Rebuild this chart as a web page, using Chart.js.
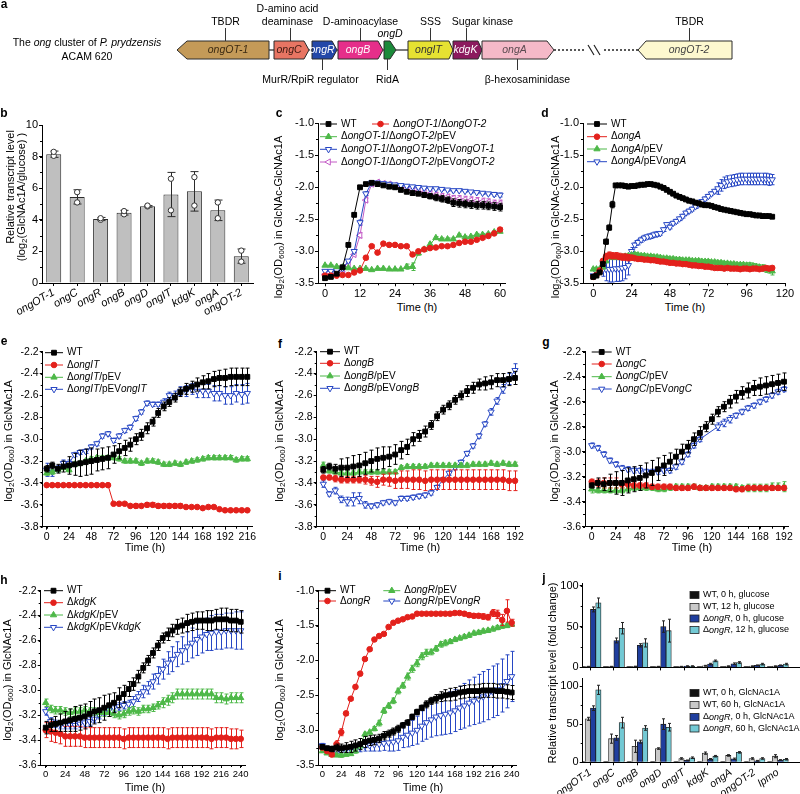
<!DOCTYPE html>
<html>
<head>
<meta charset="utf-8">
<script src="https://cdn.jsdelivr.net/npm/chart.js@4.4.1/dist/chart.umd.min.js"></script>
<style>
html, body { margin: 0; padding: 0; background: #fff; overflow: hidden; }
body { width: 800px; height: 794px; position: relative; font-family: "Liberation Sans", Arial, sans-serif; color: #000; }
canvas { position: absolute; }
.t { position: absolute; font-size: 11px; white-space: nowrap; transform: translate(-50%, -50%); line-height: 1; }
.v { transform: translate(-50%, -50%) rotate(-90deg); }
.p { font-weight: bold; font-size: 12px; }
sub { font-size: 0.72em; vertical-align: -0.3em; line-height: 0; }
</style>
</head>
<body>
<canvas id="cA"></canvas>
<canvas id="cB"></canvas>
<canvas id="cC"></canvas>
<canvas id="cD"></canvas>
<canvas id="cE"></canvas>
<canvas id="cF"></canvas>
<canvas id="cG"></canvas>
<canvas id="cH"></canvas>
<canvas id="cI"></canvas>
<canvas id="cJ1"></canvas>
<canvas id="cJ2"></canvas>

<div class="t p" style="left:4px;top:4px">a</div>
<div class="t p" style="left:4px;top:113px">b</div>
<div class="t p" style="left:279px;top:113px">c</div>
<div class="t p" style="left:545px;top:113px">d</div>
<div class="t p" style="left:4px;top:341px">e</div>
<div class="t p" style="left:280px;top:344px">f</div>
<div class="t p" style="left:546px;top:342px">g</div>
<div class="t p" style="left:4px;top:580px">h</div>
<div class="t p" style="left:280px;top:576px">i</div>
<div class="t p" style="left:544px;top:578px">j</div>

<div class="t v" style="left:10px;top:187px">Relative transcript level</div>
<div class="t v" style="left:21px;top:197px">(log<sub>2</sub>(GlcNAc1A/glucose) )</div>
<div class="t v" style="left:278px;top:217px">log<sub>2</sub>(OD<sub>600</sub>) in GlcNAc-GlcNAc1A</div>
<div class="t v" style="left:555px;top:217px">log<sub>2</sub>(OD<sub>600</sub>) in GlcNAc-GlcNAc1A</div>
<div class="t v" style="left:8px;top:441px">log<sub>2</sub>(OD<sub>600</sub>) in GlcNAc1A</div>
<div class="t v" style="left:279px;top:441px">log<sub>2</sub>(OD<sub>600</sub>) in GlcNAc1A</div>
<div class="t v" style="left:554px;top:441px">log<sub>2</sub>(OD<sub>600</sub>) in GlcNAc1A</div>
<div class="t v" style="left:7px;top:680px">log<sub>2</sub>(OD<sub>600</sub>) in GlcNAc1A</div>
<div class="t v" style="left:279px;top:680px">log<sub>2</sub>(OD<sub>600</sub>) in GlcNAc1A</div>
<div class="t v" style="left:552px;top:673px">Relative transcript level (fold change)</div>

<div class="t" style="left:417px;top:307px">Time (h)</div>
<div class="t" style="left:685px;top:307px">Time (h)</div>
<div class="t" style="left:145px;top:547px">Time (h)</div>
<div class="t" style="left:420px;top:547px">Time (h)</div>
<div class="t" style="left:692px;top:547px">Time (h)</div>
<div class="t" style="left:145px;top:787px">Time (h)</div>
<div class="t" style="left:423px;top:787px">Time (h)</div>

<script>
// ---------- data ----------
// a: gene map (map units)
const geneNames = ['ongOT-1', 'ongC', 'ongR', 'ongB', 'ongD', 'ongIT', 'kdgK', 'ongA', 'ongOT-2'];
const geneFrom = [177, 274, 312, 338, 384, 408, 453, 482, 638];
const geneTo = [269, 309, 337, 383, 396, 453, 482, 554, 732];
const geneStrand = [-1, 1, 1, 1, 1, 1, 1, 1, -1];
const annText = ['TBDR', 'D-amino acid|deaminase', 'D-aminoacylase', 'SSS', 'Sugar kinase', 'TBDR', 'MurR/RpiR regulator', 'RidA', 'β-hexosaminidase'];
const annAt = [225, 290, 360, 430, 466, 689, 322, 387, 517];

// b
const bGenes = ['ongOT-1', 'ongC', 'ongR', 'ongB', 'ongD', 'ongIT', 'kdgK', 'ongA', 'ongOT-2'];
const bMean = [8.15, 5.45, 4.05, 4.45, 4.85, 5.6, 5.8, 4.6, 1.7];
const bErr = [0.2, 0.45, 0.1, 0.15, 0.05, 1.4, 1.25, 0.65, 0.45];
const bRep1 = [8.3, 5.75, 4.1, 4.55, 4.9, 6.6, 6.7, 5.1, 2.05];
const bRep2 = [8.05, 5.1, 4.0, 4.35, 4.85, 4.6, 4.9, 4.1, 1.35];

// c
const tC = [0,2,4,6,8,10,12,14,16,18,20,22,24,26,28,30,32,34,36,38,40,42,44,46,48,50,52,54,56,58,60];
const cWT = [-3.42,-3.40,-3.35,-3.25,-2.90,-2.43,-2.00,-1.95,-1.93,-1.95,-1.97,-1.99,-2.00,-2.04,-2.07,-2.09,-2.10,-2.12,-2.14,-2.16,-2.18,-2.20,-2.24,-2.25,-2.26,-2.27,-2.28,-2.28,-2.29,-2.30,-2.31];
const cWTe = [0.02,0.02,0.02,0.02,0.03,0.03,0.02,0.02,0.02,0.02,0.02,0.02,0.03,0.03,0.03,0.03,0.03,0.04,0.04,0.05,0.05,0.05,0.06,0.06,0.06,0.06,0.06,0.06,0.06,0.06,0.06];
const cR = [-3.38,-3.38,-3.38,-3.37,-3.37,-3.33,-3.30,-3.10,-2.92,-3.02,-2.88,-2.90,-2.90,-2.92,-2.92,-3.05,-3.00,-2.97,-2.95,-2.94,-2.92,-2.92,-2.90,-2.87,-2.85,-2.85,-2.82,-2.79,-2.76,-2.72,-2.66];
const cRe = [0.01,0.01,0.01,0.01,0.01,0.02,0.02,0.03,0.02,0.02,0.02,0.02,0.02,0.02,0.02,0.02,0.02,0.02,0.02,0.02,0.02,0.02,0.02,0.02,0.02,0.02,0.02,0.02,0.02,0.02,0.03];
const cG = [-3.22,-3.22,-3.24,-3.25,-3.26,-3.27,-3.27,-3.27,-3.29,-3.27,-3.27,-3.28,-3.28,-3.28,-3.24,-3.24,-3.03,-2.97,-2.89,-2.79,-2.81,-2.81,-2.81,-2.75,-2.78,-2.77,-2.74,-2.74,-2.73,-2.70,-2.69];
const cGe = [0.01,0.01,0.01,0.01,0.01,0.01,0.01,0.01,0.01,0.01,0.01,0.01,0.01,0.01,0.04,0.06,0.03,0.02,0.03,0.02,0.02,0.02,0.02,0.02,0.02,0.02,0.02,0.02,0.02,0.02,0.02];
const cB = [-3.31,-3.31,-3.30,-3.27,-3.15,-3.00,-2.55,-2.10,-1.93,-1.93,-1.94,-1.95,-1.96,-1.97,-1.98,-1.99,-2.00,-2.01,-2.02,-2.02,-2.03,-2.04,-2.05,-2.05,-2.06,-2.07,-2.08,-2.09,-2.10,-2.11,-2.12];
const cBe = [0.01,0.01,0.01,0.01,0.02,0.02,0.04,0.03,0.02,0.02,0.02,0.02,0.02,0.02,0.02,0.02,0.02,0.02,0.02,0.02,0.02,0.02,0.02,0.02,0.02,0.02,0.02,0.02,0.02,0.03,0.03];
const cP = [-3.36,-3.36,-3.35,-3.33,-3.22,-3.05,-2.75,-2.20,-1.95,-1.92,-1.94,-1.95,-1.97,-1.99,-2.02,-2.04,-2.06,-2.08,-2.10,-2.12,-2.14,-2.15,-2.17,-2.18,-2.19,-2.20,-2.21,-2.22,-2.23,-2.25,-2.25];
const cPe = [0.01,0.01,0.01,0.01,0.02,0.02,0.04,0.03,0.02,0.02,0.02,0.02,0.03,0.03,0.03,0.03,0.03,0.03,0.04,0.04,0.04,0.04,0.04,0.05,0.05,0.05,0.05,0.05,0.05,0.05,0.05];

// d
const tD = [0,2,4,6,8,10,12,14,16,18,20,22,24,26,28,30,32,34,36,38,40,42,44,46,48,50,52,54,56,58,60,62,64,66,68,70,72,74,76,78,80,82,84,86,88,90,92,94,96,98,100,102,104,106,108,110,112];
const dWT = [-3.40,-3.38,-3.33,-3.20,-2.85,-2.63,-2.27,-1.97,-1.97,-1.97,
  -1.98,-1.99,-1.98,-1.98,-1.97,-1.96,-1.96,-1.95,-1.95,-1.96,
  -1.97,-1.99,-2.01,-2.04,-2.07,-2.10,-2.13,-2.15,-2.17,-2.19,
  -2.21,-2.22,-2.24,-2.25,-2.27,-2.28,-2.28,-2.29,-2.31,-2.32,
  -2.34,-2.35,-2.36,-2.37,-2.38,-2.39,-2.40,-2.41,-2.42,-2.42,
  -2.43,-2.44,-2.44,-2.45,-2.45,-2.45,-2.46];
const dWTe = [0.02,0.02,0.02,0.03,0.04,0.04,0.05,0.02,0.02,0.02,
  0.02,0.02,0.02,0.02,0.02,0.02,0.02,0.02,0.02,0.02,
  0.02,0.02,0.02,0.02,0.02,0.02,0.02,0.02,0.02,0.02,
  0.02,0.02,0.02,0.02,0.02,0.02,0.02,0.02,0.02,0.02,
  0.02,0.02,0.02,0.02,0.02,0.02,0.02,0.02,0.02,0.02,
  0.02,0.02,0.02,0.02,0.02,0.02,0.02];
const dR = [-3.40,-3.37,-3.30,-3.15,-3.08,-3.06,-3.07,-3.07,-3.08,-3.09,
  -3.09,-3.10,-3.10,-3.11,-3.12,-3.12,-3.13,-3.13,-3.14,-3.14,
  -3.15,-3.16,-3.16,-3.17,-3.18,-3.18,-3.19,-3.19,-3.20,-3.20,
  -3.21,-3.22,-3.22,-3.23,-3.23,-3.24,-3.24,-3.25,-3.26,-3.26,
  -3.26,-3.27,-3.26,-3.27,-3.27,-3.27,-3.28,-3.27,-3.27,-3.28,
  -3.27,-3.27,-3.28,-3.27,-3.26,-3.27,-3.26];
const dRe = [0.02,0.02,0.03,0.04,0.05,0.05,0.05,0.05,0.05,0.05,
  0.05,0.05,0.04,0.03,0.03,0.03,0.03,0.03,0.03,0.03,
  0.02,0.02,0.02,0.02,0.02,0.02,0.02,0.02,0.02,0.02,
  0.02,0.02,0.02,0.02,0.02,0.02,0.02,0.02,0.02,0.02,
  0.02,0.02,0.02,0.02,0.02,0.02,0.02,0.02,0.02,0.02,
  0.02,0.02,0.02,0.02,0.03,0.03,0.03];
const dG = [-3.28,-3.28,-3.28,-3.25,-3.15,-3.08,-3.10,-3.10,-3.10,-3.09,
  -3.08,-3.07,-3.06,-3.05,-3.06,-3.07,-3.07,-3.08,-3.08,-3.09,
  -3.09,-3.10,-3.11,-3.11,-3.12,-3.12,-3.13,-3.13,-3.14,-3.14,
  -3.14,-3.15,-3.15,-3.15,-3.16,-3.16,-3.16,-3.17,-3.17,-3.18,
  -3.18,-3.19,-3.19,-3.20,-3.20,-3.21,-3.21,-3.21,-3.22,-3.22,
  -3.23,-3.24,-3.25,-3.26,-3.28,-3.29,-3.31];
const dGe = [0.02,0.02,0.02,0.02,0.03,0.03,0.03,0.03,0.03,0.03,
  0.03,0.03,0.03,0.03,0.03,0.03,0.03,0.03,0.03,0.03,
  0.03,0.03,0.03,0.03,0.03,0.03,0.03,0.03,0.03,0.03,
  0.03,0.03,0.03,0.03,0.03,0.03,0.03,0.03,0.03,0.03,
  0.03,0.03,0.03,0.03,0.03,0.03,0.03,0.03,0.04,0.04,
  0.04,0.04,0.04,0.05,0.05,0.05,0.06];
const dB = [-3.38,-3.33,-3.30,-3.29,-3.28,-3.28,-3.28,-3.27,-3.27,-3.26,
  -3.25,-3.22,-3.00,-2.90,-2.86,-2.82,-2.79,-2.77,-2.76,-2.74,
  -2.73,-2.72,-2.66,-2.58,-2.62,-2.56,-2.53,-2.49,-2.45,-2.40,
  -2.37,-2.34,-2.30,-2.26,-2.22,-2.18,-2.14,-2.10,-2.06,-2.02,
  -1.97,-1.93,-1.91,-1.90,-1.89,-1.88,-1.87,-1.87,-1.87,-1.87,
  -1.87,-1.87,-1.87,-1.87,-1.87,-1.88,-1.88];
const dBe = [0.02,0.03,0.05,0.10,0.18,0.20,0.20,0.20,0.20,0.20,
  0.18,0.15,0.06,0.04,0.04,0.04,0.04,0.04,0.04,0.04,
  0.04,0.03,0.03,0.03,0.03,0.03,0.03,0.03,0.03,0.03,
  0.03,0.03,0.03,0.03,0.03,0.03,0.03,0.03,0.03,0.09,
  0.09,0.09,0.09,0.09,0.09,0.09,0.09,0.09,0.09,0.09,
  0.09,0.09,0.09,0.09,0.09,0.09,0.08];

// e
const tE = [0,6,12,18,24,30,36,42,48,54,60,66,72,78,84,90,96,102,108,114,120,126,132,138,144,150,156,162,168,174,180,186,192,198,204,210,216];
const eWT = [-3.27,-3.24,-3.27,-3.25,-3.24,-3.23,-3.22,-3.21,-3.20,-3.19,
  -3.18,-3.17,-3.14,-3.11,-3.08,-3.05,-3.00,-2.96,-2.90,-2.84,
  -2.76,-2.70,-2.66,-2.62,-2.57,-2.54,-2.52,-2.50,-2.48,-2.47,
  -2.45,-2.44,-2.44,-2.43,-2.43,-2.43,-2.43];
const eWTe = [0.03,0.03,0.04,0.05,0.08,0.10,0.12,0.12,0.12,0.10,
  0.10,0.10,0.08,0.07,0.07,0.06,0.05,0.05,0.05,0.04,
  0.04,0.04,0.04,0.04,0.04,0.05,0.05,0.06,0.06,0.07,
  0.07,0.07,0.08,0.08,0.08,0.08,0.08];
const eR = [-3.42,-3.42,-3.42,-3.42,-3.42,-3.42,-3.42,-3.42,-3.42,-3.42,
  -3.42,-3.42,-3.59,-3.59,-3.59,-3.61,-3.61,-3.61,-3.60,-3.60,
  -3.61,-3.61,-3.61,-3.61,-3.61,-3.62,-3.62,-3.62,-3.63,-3.62,
  -3.62,-3.64,-3.65,-3.65,-3.65,-3.65,-3.65];
const eRe = [0.005,0.005,0.005,0.005,0.005,0.005,0.005,0.005,0.005,0.005,
  0.005,0.005,0.01,0.01,0.01,0.01,0.02,0.01,0.02,0.02,
  0.02,0.02,0.02,0.02,0.02,0.01,0.01,0.01,0.01,0.01,
  0.01,0.01,0.01,0.01,0.01,0.01,0.01];
const eG = [-3.31,-3.30,-3.28,-3.26,-3.28,-3.23,-3.22,-3.20,-3.18,-3.17,
  -3.17,-3.17,-3.17,-3.18,-3.20,-3.20,-3.20,-3.22,-3.20,-3.20,
  -3.21,-3.23,-3.23,-3.22,-3.23,-3.21,-3.20,-3.19,-3.18,-3.17,
  -3.17,-3.17,-3.17,-3.17,-3.19,-3.18,-3.18];
const eGe = [0.02,0.02,0.02,0.02,0.02,0.02,0.02,0.02,0.02,0.02,
  0.02,0.02,0.02,0.02,0.02,0.02,0.02,0.02,0.02,0.02,
  0.02,0.02,0.02,0.02,0.02,0.02,0.02,0.02,0.02,0.02,
  0.02,0.02,0.02,0.02,0.02,0.02,0.02];
const eB = [-3.28,-3.30,-3.27,-3.22,-3.22,-3.14,-3.12,-3.11,-3.07,-3.04,
  -2.97,-2.95,-3.01,-2.97,-2.92,-2.89,-2.81,-2.75,-2.67,-2.68,
  -2.68,-2.66,-2.60,-2.60,-2.56,-2.56,-2.54,-2.56,-2.56,-2.56,
  -2.58,-2.58,-2.60,-2.60,-2.58,-2.59,-2.58];
const eBe = [0.06,0.04,0.03,0.03,0.03,0.02,0.02,0.02,0.02,0.02,
  0.02,0.02,0.02,0.02,0.02,0.02,0.02,0.02,0.02,0.02,
  0.02,0.03,0.03,0.04,0.04,0.05,0.05,0.06,0.06,0.06,
  0.07,0.07,0.08,0.08,0.08,0.09,0.09];

// f and g share the same sampling times
const tF = [0,6,12,18,24,30,36,42,48,54,60,66,72,78,84,90,96,102,108,114,120,126,132,138,144,150,156,162,168,174,180,186,192];
const fWT = [-3.28,-3.25,-3.27,-3.26,-3.26,-3.25,-3.24,-3.22,-3.20,-3.18,
  -3.17,-3.16,-3.14,-3.10,-3.07,-3.00,-2.97,-2.93,-2.87,-2.79,
  -2.73,-2.69,-2.64,-2.60,-2.56,-2.53,-2.50,-2.49,-2.48,-2.46,
  -2.46,-2.45,-2.44];
const fWTe = [0.03,0.03,0.04,0.08,0.09,0.10,0.10,0.10,0.10,0.10,
  0.10,0.09,0.09,0.08,0.07,0.06,0.05,0.05,0.04,0.04,
  0.04,0.04,0.04,0.04,0.05,0.05,0.05,0.06,0.06,0.06,
  0.06,0.06,0.06];
const fR = [-3.35,-3.35,-3.36,-3.37,-3.37,-3.37,-3.37,-3.37,-3.38,-3.39,
  -3.37,-3.37,-3.38,-3.37,-3.37,-3.37,-3.37,-3.38,-3.37,-3.37,
  -3.37,-3.37,-3.37,-3.37,-3.37,-3.37,-3.37,-3.37,-3.37,-3.37,
  -3.37,-3.38,-3.38];
const fRe = [0.02,0.02,0.03,0.03,0.03,0.03,0.03,0.04,0.04,0.05,
  0.05,0.06,0.07,0.08,0.08,0.09,0.09,0.09,0.09,0.09,
  0.09,0.09,0.09,0.09,0.09,0.09,0.09,0.09,0.09,0.09,
  0.09,0.09,0.09];
const fG = [-3.24,-3.29,-3.30,-3.31,-3.31,-3.31,-3.30,-3.30,-3.30,-3.30,
  -3.30,-3.30,-3.30,-3.26,-3.25,-3.25,-3.25,-3.25,-3.24,-3.24,
  -3.24,-3.24,-3.24,-3.24,-3.24,-3.23,-3.23,-3.23,-3.22,-3.23,
  -3.22,-3.23,-3.23];
const fGe = [0.03,0.02,0.02,0.02,0.02,0.02,0.02,0.02,0.02,0.02,
  0.02,0.02,0.02,0.02,0.02,0.02,0.02,0.02,0.02,0.02,
  0.02,0.02,0.02,0.02,0.02,0.02,0.02,0.02,0.02,0.02,
  0.02,0.02,0.02];
const fB = [-3.41,-3.50,-3.47,-3.55,-3.57,-3.55,-3.54,-3.60,-3.61,-3.60,
  -3.58,-3.57,-3.58,-3.54,-3.54,-3.53,-3.52,-3.51,-3.49,-3.44,
  -3.37,-3.31,-3.26,-3.21,-3.13,-3.06,-2.97,-2.86,-2.75,-2.65,
  -2.54,-2.45,-2.37];
const fBe = [0.03,0.02,0.03,0.03,0.04,0.06,0.05,0.03,0.02,0.02,
  0.02,0.02,0.02,0.02,0.02,0.02,0.02,0.02,0.02,0.02,
  0.02,0.02,0.02,0.02,0.02,0.02,0.02,0.02,0.03,0.03,
  0.04,0.05,0.06];

const gWT = [-3.27,-3.25,-3.26,-3.25,-3.25,-3.25,-3.23,-3.22,-3.21,-3.19,
  -3.17,-3.14,-3.11,-3.08,-3.04,-3.00,-2.96,-2.90,-2.85,-2.80,
  -2.74,-2.68,-2.64,-2.60,-2.56,-2.53,-2.51,-2.49,-2.48,-2.47,
  -2.46,-2.45,-2.44];
const gWTe = [0.02,0.04,0.05,0.07,0.09,0.10,0.10,0.10,0.10,0.10,
  0.10,0.09,0.08,0.07,0.06,0.06,0.05,0.05,0.05,0.04,
  0.04,0.04,0.04,0.05,0.05,0.05,0.06,0.06,0.07,0.07,
  0.07,0.07,0.07];
const gR = [-3.24,-3.25,-3.25,-3.25,-3.25,-3.26,-3.26,-3.27,-3.27,-3.27,
  -3.28,-3.28,-3.28,-3.28,-3.29,-3.29,-3.29,-3.28,-3.29,-3.29,
  -3.29,-3.29,-3.29,-3.29,-3.30,-3.30,-3.29,-3.29,-3.29,-3.29,
  -3.29,-3.29,-3.29];
const gRe = [0.02,0.03,0.04,0.04,0.04,0.03,0.03,0.02,0.02,0.02,
  0.02,0.02,0.02,0.02,0.02,0.02,0.02,0.02,0.02,0.02,
  0.02,0.02,0.02,0.02,0.02,0.02,0.02,0.02,0.02,0.02,
  0.02,0.02,0.02];
const gG = [-3.30,-3.31,-3.31,-3.31,-3.31,-3.31,-3.30,-3.29,-3.29,-3.29,
  -3.29,-3.30,-3.30,-3.29,-3.28,-3.28,-3.28,-3.28,-3.29,-3.29,
  -3.28,-3.28,-3.28,-3.28,-3.28,-3.29,-3.29,-3.29,-3.29,-3.29,
  -3.28,-3.28,-3.28];
const gGe = [0.03,0.02,0.02,0.02,0.02,0.02,0.02,0.02,0.02,0.02,
  0.02,0.02,0.02,0.02,0.02,0.02,0.02,0.02,0.02,0.02,
  0.02,0.02,0.02,0.02,0.02,0.02,0.03,0.03,0.03,0.03,
  0.03,0.03,0.04];
const gB = [-2.95,-2.97,-3.02,-3.07,-3.10,-3.13,-3.14,-3.15,-3.15,-3.16,
  -3.16,-3.16,-3.15,-3.15,-3.12,-3.08,-3.02,-2.95,-2.90,null,
  null,-2.80,-2.77,-2.74,-2.71,-2.68,-2.65,-2.63,-2.60,-2.58,
  -2.55,-2.52,-2.50];
const gBe = [0.02,0.02,0.02,0.02,0.02,0.02,0.02,0.02,0.02,0.02,
  0.02,0.02,0.02,0.02,0.02,0.02,0.02,0.02,0.02,0,
  0,0.03,0.03,0.03,0.02,0.02,0.02,0.02,0.02,0.02,
  0.02,0.02,0.02];

// h and i share the same sampling times
const tH = [0,6,12,18,24,30,36,42,48,54,60,66,72,78,84,90,96,102,108,114,120,126,132,138,144,150,156,162,168,174,180,186,192,198,204,210,216,222,228,234,240];
const hWT = [-3.30,-3.28,-3.27,-3.26,-3.25,-3.24,-3.23,-3.22,-3.21,-3.19,
  -3.17,-3.16,-3.14,-3.12,-3.10,-3.06,-3.03,-2.99,-2.95,-2.89,
  -2.82,-2.76,-2.70,-2.64,-2.58,-2.55,-2.52,-2.49,-2.48,-2.46,
  -2.45,-2.44,-2.44,-2.44,-2.44,-2.43,-2.43,-2.43,-2.44,-2.44,-2.45];
const hWTe = [0.05,0.05,0.06,0.07,0.08,0.09,0.10,0.10,0.10,0.10,
  0.10,0.10,0.10,0.09,0.08,0.08,0.07,0.06,0.05,0.05,
  0.04,0.04,0.04,0.04,0.04,0.05,0.05,0.06,0.06,0.07,
  0.07,0.07,0.07,0.08,0.08,0.08,0.09,0.09,0.09,0.09,0.09];
const hR = [-3.32,-3.33,-3.34,-3.35,-3.37,-3.37,-3.37,-3.37,-3.38,-3.38,
  -3.38,-3.38,-3.38,-3.38,-3.38,-3.38,-3.39,-3.38,-3.38,-3.38,
  -3.38,-3.38,-3.38,-3.38,-3.38,-3.39,-3.38,-3.38,-3.38,-3.38,
  -3.38,-3.38,-3.38,-3.38,-3.39,-3.38,-3.38,-3.38,-3.39,-3.39,-3.39];
const hRe = [0.06,0.08,0.08,0.08,0.08,0.08,0.08,0.08,0.08,0.08,
  0.08,0.08,0.08,0.08,0.08,0.08,0.08,0.08,0.08,0.08,
  0.08,0.08,0.08,0.08,0.08,0.08,0.08,0.08,0.08,0.08,
  0.08,0.08,0.08,0.08,0.08,0.08,0.08,0.08,0.08,0.08,0.07];
const hG = [-3.10,-3.15,-3.16,-3.16,-3.17,-3.18,-3.17,-3.17,-3.16,-3.17,
  -3.17,-3.18,-3.18,-3.18,-3.19,-3.20,-3.19,-3.17,-3.16,-3.17,
  -3.15,-3.15,-3.14,-3.12,-3.10,-3.08,-3.06,-3.03,-3.03,-3.03,
  -3.03,-3.03,-3.03,-3.03,-3.03,-3.06,-3.06,-3.07,-3.06,-3.06,-3.06];
const hGe = [0.03,0.03,0.03,0.03,0.03,0.03,0.03,0.03,0.03,0.03,
  0.03,0.03,0.03,0.03,0.03,0.03,0.03,0.03,0.03,0.03,
  0.03,0.03,0.03,0.03,0.04,0.04,0.04,0.04,0.04,0.04,
  0.04,0.04,0.04,0.04,0.04,0.04,0.04,0.04,0.04,0.04,0.04];
const hB = [-3.17,-3.25,-3.27,-3.28,-3.28,-3.28,-3.28,-3.27,-3.26,-3.25,
  -3.23,-3.20,-3.17,-3.16,-3.14,-3.13,-3.12,-3.11,-3.09,-3.05,
  -3.01,-2.98,-2.93,-2.88,-2.83,-2.78,-2.75,-2.71,-2.68,-2.65,
  -2.62,-2.59,-2.57,-2.55,-2.54,-2.53,-2.53,-2.52,-2.52,-2.52,-2.52];
const hBe = [0.03,0.03,0.03,0.03,0.03,0.03,0.03,0.03,0.03,0.03,
  0.03,0.03,0.03,0.03,0.03,0.03,0.03,0.03,0.04,0.04,
  0.05,0.05,0.06,0.07,0.08,0.09,0.10,0.10,0.11,0.12,
  0.12,0.13,0.13,0.13,0.14,0.14,0.14,0.14,0.14,0.15,0.15];

const iWT = [-3.24,-3.26,-3.27,-3.25,-3.26,-3.25,-3.24,-3.22,-3.20,-3.17,
  -3.15,-3.14,-3.12,-3.08,-3.05,-3.02,-2.98,-2.93,-2.89,-2.81,
  -2.74,-2.68,-2.63,-2.58,-2.55,-2.52,-2.50,-2.49,-2.48,-2.46,
  -2.45,-2.44,-2.44,-2.44,-2.43,-2.43,-2.43,-2.44,-2.44,-2.45,-2.46];
const iWTe = [0.03,0.03,0.04,0.05,0.06,0.07,0.08,0.08,0.08,0.08,
  0.07,0.07,0.06,0.06,0.05,0.05,0.05,0.04,0.04,0.04,
  0.04,0.04,0.05,0.05,0.06,0.07,0.08,0.09,0.09,0.09,
  0.09,0.09,0.09,0.10,0.10,0.10,0.10,0.10,0.10,0.10,0.10];
const iR = [-3.25,-3.30,-3.35,-3.20,-3.03,-2.76,-2.55,-2.38,-2.19,-1.98,
  -1.84,-1.70,-1.65,-1.62,-1.52,-1.46,-1.43,-1.41,-1.38,-1.37,
  -1.33,-1.33,-1.33,-1.33,-1.33,-1.33,-1.33,-1.33,-1.32,-1.32,
  -1.33,-1.35,-1.36,-1.36,-1.37,-1.38,-1.32,-1.34,-1.42,-1.29,-1.46];
const iRe = [0.02,0.02,0.03,0.05,0.05,0.03,0.02,0.02,0.02,0.02,
  0.02,0.02,0.02,0.02,0.02,0.02,0.02,0.02,0.02,0.02,
  0.02,0.02,0.02,0.02,0.02,0.02,0.02,0.02,0.02,0.02,
  0.03,0.03,0.03,0.03,0.04,0.04,0.05,0.06,0.08,0.16,0.05];
const iG = [-3.30,-3.33,-3.35,-3.36,-3.36,-3.35,-3.34,-3.30,-3.22,-3.06,
  -3.03,-2.98,-2.90,-2.72,-2.65,-2.58,-2.44,-2.36,-2.23,-2.12,
  -2.04,-1.94,-1.89,-1.88,-1.83,-1.77,-1.75,-1.73,-1.70,-1.68,
  -1.66,-1.64,-1.61,-1.60,-1.58,-1.57,-1.55,-1.53,-1.51,-1.50,-1.48];
const iGe = [0.02,0.02,0.02,0.02,0.03,0.02,0.02,0.03,0.04,0.03,
  0.03,0.03,0.04,0.04,0.04,0.04,0.04,0.04,0.05,0.05,
  0.05,0.05,0.05,0.04,0.04,0.04,0.04,0.03,0.03,0.03,
  0.03,0.03,0.03,0.03,0.03,0.03,0.03,0.03,0.03,0.03,0.03];
const iB = [-3.22,-3.28,-3.30,-3.30,-3.30,-3.28,-3.27,-3.27,-3.25,-3.23,
  -3.22,-3.21,-3.20,-3.19,-3.18,-3.17,-3.15,-3.10,-3.07,-3.04,
  -3.00,-2.94,-2.89,-2.85,-2.81,-2.79,-2.77,-2.75,-2.72,-2.68,
  -2.65,-2.61,-2.58,-2.55,-2.52,-2.49,-2.45,-2.42,-2.36,-2.30,-2.23];
const iBe = [0.03,0.03,0.03,0.03,0.03,0.04,0.05,0.05,0.06,0.07,
  0.08,0.09,0.10,0.10,0.12,0.13,0.14,0.15,0.17,0.18,
  0.20,0.22,0.24,0.25,0.27,0.28,0.29,0.30,0.30,0.31,
  0.32,0.33,0.34,0.35,0.36,0.36,0.37,0.37,0.38,0.38,0.36];

// j
const jGenes = ['ongOT-1', 'ongC', 'ongB', 'ongD', 'ongIT', 'kdgK', 'ongA', 'ongOT-2', 'lpmo'];
const gluWT0 = [1, 1, 1, 1, 1, 1, 1, 1, 1];
const gluWT12 = [1, 1, 1.2, 1, 1, 2, 1.5, 1.5, 1.5];
const gluR0 = [71, 33, 27, 50, 1.5, 4, 4.5, 2.5, 2.5];
const gluR12 = [79, 48, 30, 45, 1.5, 8, 6, 4, 4];
const gluWT12e = [0.3, 0.3, 0.3, 0.3, 0.3, 0.5, 0.4, 0.4, 0.4];
const gluR0e = [3, 3, 2, 7, 0.5, 1, 1, 0.5, 0.5];
const gluR12e = [6, 7, 5, 14, 0.5, 1, 1, 1, 1];
const glcWT0 = [1, 1, 1, 1, 1, 1, 1, 1, 1];
const glcWT60 = [57, 31, 21, 18, 5, 12, 9, 5, 8];
const glcR0 = [71, 32, 27, 50, 2.5, 4, 4.5, 2, 3];
const glcR60 = [95, 52, 45, 46, 6, 8, 13, 5, 4];
const glcWT60e = [2, 6, 8, 1, 1, 1.5, 1, 1, 2];
const glcR0e = [3, 3, 2, 7, 0.5, 1, 1, 0.5, 0.5];
const glcR60e = [6, 7, 3, 5, 1, 1, 1, 1, 1];

// ---------- helpers ----------
const FONT = '"Liberation Sans", Arial, sans-serif';
Chart.defaults.font.family = FONT;
Chart.defaults.font.size = 11;
Chart.defaults.color = '#000';
Chart.defaults.animation = false;

// '*...*' marks italic parts of a label
function drawSegs(ctx, s, x, y, size, align) {
  const segs = s.split('*').map((t, i) => [t, i % 2 === 1]);
  const f = it => (it ? 'italic ' : '') + size + 'px ' + FONT;
  let w = 0;
  segs.forEach(([t, it]) => { ctx.font = f(it); w += ctx.measureText(t).width; });
  let cx = align === 'center' ? x - w / 2 : (align === 'right' ? x - w : x);
  ctx.textAlign = 'left';
  ctx.textBaseline = 'middle';
  segs.forEach(([t, it]) => { ctx.font = f(it); ctx.fillText(t, cx, y); cx += ctx.measureText(t).width; });
}

function marker(ctx, st, x, y) {
  const r = st.pointRadius;
  let a = (st.pointRotation || 0) * Math.PI / 180;
  ctx.beginPath();
  if (st.pointStyle === 'rect') {
    const s = r * Math.SQRT1_2;
    ctx.rect(x - s, y - s, 2 * s, 2 * s);
  } else if (st.pointStyle === 'triangle') {
    for (let k = 0; k < 3; k++) {
      const px = x + Math.sin(a) * r, py = y - Math.cos(a) * r;
      k ? ctx.lineTo(px, py) : ctx.moveTo(px, py);
      a += 2 * Math.PI / 3;
    }
    ctx.closePath();
  } else {
    ctx.arc(x, y, r, 0, 2 * Math.PI);
  }
  ctx.fillStyle = st.pointBackgroundColor;
  ctx.fill();
  ctx.lineWidth = 1;
  ctx.strokeStyle = st.pointBorderColor;
  ctx.stroke();
}

function drawErr(chart, i) {
  const ds = chart.data.datasets[i];
  if (!ds.err) return;
  const ctx = chart.ctx, y = chart.scales.y;
  const meta = chart.getDatasetMeta(i);
  const cap = ds.errCap || 2;
  ctx.save();
  ctx.strokeStyle = ds.errColor || ds.borderColor;
  ctx.lineWidth = 1;
  ctx.beginPath();
  meta.data.forEach((el, j) => {
    const v = ds.vals[j], e = ds.err[j];
    if (v == null || !e) return;
    const x = Math.round(el.x) + 0.5;
    const y1 = y.getPixelForValue(v - e), y2 = y.getPixelForValue(v + e);
    ctx.moveTo(x, y1); ctx.lineTo(x, y2);
    ctx.moveTo(x - cap, y1); ctx.lineTo(x + cap, y1);
    ctx.moveTo(x - cap, y2); ctx.lineTo(x + cap, y2);
  });
  ctx.stroke();
  ctx.restore();
}

const errBars = {
  id: 'errBars',
  beforeDatasetDraw(chart, args) { if (!chart.data.datasets[args.index].errAfter) drawErr(chart, args.index); },
  afterDatasetDraw(chart, args) { if (chart.data.datasets[args.index].errAfter) drawErr(chart, args.index); }
};

const minorTicks = {
  id: 'minorTicks',
  afterDraw(chart, args, o) {
    const ctx = chart.ctx, a = chart.chartArea;
    ctx.save();
    ctx.strokeStyle = '#000';
    ctx.lineWidth = 1;
    ctx.beginPath();
    ['x', 'y'].forEach(k => {
      const step = o[k];
      if (!step) return;
      const s = chart.scales[k];
      for (let n = Math.ceil(s.min / step - 1e-6); n * step <= s.max + 1e-6; n++) {
        const p = Math.round(s.getPixelForValue(n * step)) + 0.5;
        if (k === 'x') { ctx.moveTo(p, a.bottom); ctx.lineTo(p, a.bottom + 2); }
        else { ctx.moveTo(a.left, p); ctx.lineTo(a.left - 2, p); }
      }
    });
    ctx.stroke();
    ctx.restore();
  }
};

const lgd = {
  id: 'lgd',
  afterDraw(chart, args, o) {
    if (!o.at) return;
    const ctx = chart.ctx;
    ctx.save();
    ctx.translate(-o.ox, -o.oy);
    chart.data.datasets.forEach((ds, i) => {
      const p = o.at[i];
      if (!p) return;
      const [x, y] = p;
      if (o.box) {
        ctx.fillStyle = ds.backgroundColor;
        ctx.strokeStyle = '#222';
        ctx.lineWidth = 0.8;
        ctx.fillRect(x, y - 3.5, 9, 7);
        ctx.strokeRect(x, y - 3.5, 9, 7);
        ctx.fillStyle = '#000';
        drawSegs(ctx, ds.label, x + 13, y, o.size || 10.5, 'left');
        return;
      }
      ctx.strokeStyle = ds.borderColor;
      ctx.lineWidth = 1;
      ctx.beginPath();
      ctx.moveTo(x, y); ctx.lineTo(x + o.len, y);
      ctx.stroke();
      marker(ctx, ds, x + o.len / 2, y);
      ctx.fillStyle = '#000';
      drawSegs(ctx, ds.label, x + o.len + 4, y, o.size || 10, 'left');
    });
    ctx.restore();
  }
};

// panel a drawn from the gene arrays through the chart scales
const geneMap = {
  id: 'geneMap',
  afterDraw(chart, args, o) {
    if (!o.fill) return;
    const ctx = chart.ctx, X = chart.scales.x, Y = chart.scales.y;
    const yc = Y.getPixelForValue(o.row), yt = yc - o.h / 2, yb = yc + o.h / 2;
    ctx.save();
    ctx.fillStyle = '#000';
    drawSegs(ctx, 'The *ong* cluster of *P. prydzensis*', 87, 43, 10.5, 'center');
    drawSegs(ctx, 'ACAM 620', 87, 57, 10.5, 'center');
    // connectors
    ctx.strokeStyle = '#222';
    for (let i = 0; i < geneNames.length - 1; i++) {
      const a = X.getPixelForValue(geneTo[i]), b = X.getPixelForValue(geneFrom[i + 1]);
      if (b - a < 1) continue;
      ctx.lineWidth = 1.2;
      ctx.beginPath();
      if (i === o.breakAfter) {
        const m = (a + b) / 2;
        ctx.setLineDash([2, 2]);
        ctx.lineWidth = 1.5;
        ctx.moveTo(a, yc); ctx.lineTo(m - 10, yc);
        ctx.moveTo(m + 8, yc); ctx.lineTo(b, yc);
        ctx.stroke();
        ctx.setLineDash([]);
        ctx.lineWidth = 1.2;
        ctx.beginPath();
        ctx.moveTo(m - 8, yc - 5); ctx.lineTo(m - 2, yc + 5);
        ctx.moveTo(m - 2, yc - 5); ctx.lineTo(m + 4, yc + 5);
      } else {
        ctx.moveTo(a, yc); ctx.lineTo(b, yc);
      }
      ctx.stroke();
    }
    // genes
    geneNames.forEach((g, i) => {
      const x0 = X.getPixelForValue(geneFrom[i]), x1 = X.getPixelForValue(geneTo[i]);
      const L = o.tip[i];
      ctx.beginPath();
      if (geneStrand[i] > 0) {
        ctx.moveTo(x0, yt); ctx.lineTo(x1 - L, yt); ctx.lineTo(x1, yc); ctx.lineTo(x1 - L, yb); ctx.lineTo(x0, yb);
      } else {
        ctx.moveTo(x1, yt); ctx.lineTo(x0 + L, yt); ctx.lineTo(x0, yc); ctx.lineTo(x0 + L, yb); ctx.lineTo(x1, yb);
      }
      ctx.closePath();
      ctx.fillStyle = o.fill[i];
      ctx.fill();
      ctx.lineWidth = 1;
      ctx.strokeStyle = '#2a2a2a';
      ctx.stroke();
      if (o.ink[i]) {
        const cx = geneStrand[i] > 0 ? (x0 + x1 - L) / 2 : (x0 + L + x1) / 2;
        ctx.fillStyle = o.ink[i];
        drawSegs(ctx, '*' + g + '*', cx, yc + 0.5, 10.5, 'center');
      }
    });
    ctx.fillStyle = '#000';
    drawSegs(ctx, '*ongD*', X.getPixelForValue((geneFrom[4] + geneTo[4]) / 2), 34, 10.5, 'center');
    // annotations
    ctx.strokeStyle = '#333';
    ctx.lineWidth = 1;
    annText.forEach((t, i) => {
      const x = Math.round(X.getPixelForValue(annAt[i])) + 0.5, up = o.annUp[i];
      ctx.beginPath();
      if (up) { ctx.moveTo(x, yt - 13); ctx.lineTo(x, yt); }
      else { ctx.moveTo(x, yb); ctx.lineTo(x, yb + 11); }
      ctx.stroke();
      const tx = x + o.annShift[i];
      const lines = t.split('|');
      ctx.fillStyle = '#000';
      lines.forEach((ln, k) => {
        const ty = up ? yt - 19 - (lines.length - 1 - k) * 13 : yb + 21;
        drawSegs(ctx, ln, tx, ty, 10.5, 'center');
      });
    });
    ctx.restore();
  }
};

Chart.register(errBars, minorTicks, lgd, geneMap);

function setup(id, ext, area) {
  const c = document.getElementById(id);
  c.width = ext[2] - ext[0];
  c.height = ext[3] - ext[1];
  c.style.left = ext[0] + 'px';
  c.style.top = ext[1] + 'px';
  c.style.width = c.width + 'px';
  c.style.height = c.height + 'px';
  return {
    el: c, ext,
    padding: { left: 0, top: area[1] - ext[1], right: ext[2] - area[2], bottom: 0 },
    yFit: s => { s.width = area[0] - ext[0]; },
    xFit: s => { s.height = ext[3] - area[3]; }
  };
}

function axis(r, fit, cb, size) {
  return {
    type: 'linear', min: r[0], max: r[1], afterFit: fit,
    grid: { drawOnChartArea: false, color: '#000', tickLength: 3, tickWidth: 1 },
    border: { color: '#000', width: 1 },
    ticks: { stepSize: r[2], includeBounds: false, padding: 1, color: '#000', maxRotation: 0, autoSkip: false, callback: cb, font: { size: size || 11 } }
  };
}

const ST = {
  wt: { borderColor: '#000', pointStyle: 'rect', pointRadius: 3.4, pointBackgroundColor: '#000', pointBorderColor: '#000' },
  red: { borderColor: '#E3211C', pointStyle: 'circle', pointRadius: 2.8, pointBackgroundColor: '#E3211C', pointBorderColor: '#E3211C' },
  green: { borderColor: '#4DB848', pointStyle: 'triangle', pointRadius: 3.6, pointBackgroundColor: '#4DB848', pointBorderColor: '#4DB848' },
  blue: { borderColor: '#2747C4', pointStyle: 'triangle', pointRotation: 180, pointRadius: 3.6, pointBackgroundColor: '#fff', pointBorderColor: '#2747C4' },
  purple: { borderColor: '#C35BC6', pointStyle: 'triangle', pointRotation: 270, pointRadius: 3.6, pointBackgroundColor: '#fff', pointBorderColor: '#C35BC6' }
};

function series(label, t, vals, err, st) {
  return Object.assign({
    label, vals, err,
    data: vals.map((v, i) => ({ x: t[i], y: v })),
    borderWidth: 1, pointBorderWidth: 1, tension: 0, spanGaps: true, clip: false
  }, st);
}

function lineChart(id, ext, area, xr, yr, sets, at, len, fx, fy) {
  const L = setup(id, ext, area);
  return new Chart(L.el, {
    type: 'line',
    data: { datasets: sets },
    options: {
      responsive: false, events: [],
      layout: { padding: L.padding },
      scales: {
        x: axis(xr, L.xFit, v => String(Math.round(v)), fx),
        y: axis(yr, L.yFit, v => v.toFixed(1), fy)
      },
      plugins: {
        legend: { display: false }, tooltip: { enabled: false },
        minorTicks: { x: xr[3], y: yr[3] },
        lgd: { at, ox: ext[0], oy: ext[1], len }
      }
    }
  });
}

// ---------- panel a ----------
(function () {
  const L = setup('cA', [0, 0, 800, 108], [0, 0, 800, 108]);
  new Chart(L.el, {
    type: 'scatter',
    data: { datasets: [] },
    options: {
      responsive: false, events: [],
      layout: { padding: 0 },
      scales: {
        x: { type: 'linear', min: 0, max: 800, display: false },
        y: { type: 'linear', min: 0, max: 108, reverse: true, display: false }
      },
      plugins: {
        legend: { display: false }, tooltip: { enabled: false },
        geneMap: {
          row: 50, h: 18, breakAfter: 7,
          tip: [10, 5, 5, 5, 6, 4, 4, 7, 8],
          fill: ['#C49A58', '#E87563', '#2347A8', '#E62E8A', '#1C8A3A', '#E6E232', '#8C1A5E', '#F5B9C8', '#FDF8CF'],
          ink: ['#3b2a12', '#3b1810', '#fff', '#fff', '', '#333', '#fff', '#5a4a50', '#444'],
          annUp: [1, 1, 1, 1, 1, 1, 0, 0, 0],
          annShift: [0, -3, 0, 0, 16, 0, -12, 0, 10]
        }
      }
    }
  });
})();

// ---------- panel b ----------
(function () {
  const L = setup('cB', [5, 112, 262, 322], [42, 125, 253, 283]);
  const dots = { type: 'line', showLine: false, pointStyle: 'circle', pointRadius: 2.7, pointBackgroundColor: '#fff', pointBorderColor: '#333', pointBorderWidth: 1, order: 0 };
  new Chart(L.el, {
    type: 'bar',
    data: {
      labels: bGenes,
      datasets: [
        Object.assign({ data: bRep1 }, dots),
        Object.assign({ data: bRep2 }, dots),
        { type: 'bar', data: bMean, vals: bMean, err: bErr, errAfter: true, errColor: '#2b2b2b', errCap: 4,
          backgroundColor: '#BFBFBF', borderColor: '#2b2b2b', borderWidth: 1, barPercentage: 0.64, categoryPercentage: 1, order: 1 }
      ]
    },
    options: {
      responsive: false, events: [],
      layout: { padding: L.padding },
      scales: {
        x: {
          afterFit: L.xFit,
          grid: { drawOnChartArea: false, offset: false, color: '#000', tickLength: 3 },
          border: { color: '#000', width: 1 },
          ticks: { autoSkip: false, minRotation: 30, maxRotation: 30, padding: 0, color: '#000', font: { style: 'italic', size: 11 } }
        },
        y: axis([0, 10, 2], L.yFit, v => String(Math.round(v)))
      },
      plugins: { legend: { display: false }, tooltip: { enabled: false }, minorTicks: { y: 1 } }
    }
  });
})();

// ---------- panels c - i ----------
lineChart('cC', [285, 112, 520, 300], [318, 123.3, 505, 283.3], [-2.4, 61.7, 12, 6], [-3.5, -1.0, 0.5, 0.25], [
  series('WT', tC, cWT, cWTe, ST.wt),
  series('Δ*ongOT-1*/Δ*ongOT-2*', tC, cR, cRe, ST.red),
  series('Δ*ongOT-1*/Δ*ongOT-2*/pEV', tC, cG, cGe, ST.green),
  series('Δ*ongOT-1*/Δ*ongOT-2*/pEV*ongOT-1*', tC, cB, cBe, ST.blue),
  series('Δ*ongOT-1*/Δ*ongOT-2*/pEV*ongOT-2*', tC, cP, cPe, ST.purple)
], [[320, 124], [372, 124], [320, 136.7], [320, 149.3], [320, 162]], 17, 11, 11);

lineChart('cD', [550, 112, 800, 300], [583, 123.3, 785, 283.3], [-6.4, 120, 24, 12], [-3.5, -1.0, 0.5, 0.25], [
  series('WT', tD, dWT, dWTe, ST.wt),
  series('Δ*ongA*', tD, dR, dRe, ST.red),
  series('Δ*ongA*/pEV', tD, dG, dGe, ST.green),
  series('Δ*ongA*/pEV*ongA*', tD, dB, dBe, ST.blue)
], [[587, 124], [587, 136.7], [587, 149], [587, 161.7]], 20, 11, 11);

lineChart('cE', [8, 340, 266, 545], [42.7, 351.7, 252.9, 526.7], [-4.3, 222, 24, 12], [-3.8, -2.2, 0.2, 0.1], [
  series('WT', tE, eWT, eWTe, ST.wt),
  series('Δ*ongIT*', tE, eR, eRe, ST.red),
  series('Δ*ongIT*/pEV', tE, eG, eGe, ST.green),
  series('Δ*ongIT*/pEV*ongIT*', tE, eB, eBe, ST.blue)
], [[45, 352.7], [45, 365], [45, 377.3], [45, 389.3]], 18, 10.5, 10.5);

lineChart('cF', [283, 340, 533, 545], [316.7, 351.7, 519, 526.7], [-6.6, 196, 24, 12], [-3.8, -2.2, 0.2, 0.1], [
  series('WT', tF, fWT, fWTe, ST.wt),
  series('Δ*ongB*', tF, fR, fRe, ST.red),
  series('Δ*ongB*/pEV', tF, fG, fGe, ST.green),
  series('Δ*ongB*/pEV*ongB*', tF, fB, fBe, ST.blue)
], [[320, 351.7], [320, 363.3], [320, 376], [320, 388.3]], 20, 10.5, 10.5);

lineChart('cG', [552, 340, 800, 545], [585, 351.7, 788, 526.7], [-6.7, 196, 24, 12], [-3.6, -2.2, 0.2, 0.1], [
  series('WT', tF, gWT, gWTe, ST.wt),
  series('Δ*ongC*', tF, gR, gRe, ST.red),
  series('Δ*ongC*/pEV', tF, gG, gGe, ST.green),
  series('Δ*ongC*/pEV*ongC*', tF, gB, gBe, ST.blue)
], [[591.7, 352], [591.7, 364], [591.7, 376.7], [591.7, 389]], 20, 10.5, 10.5);

lineChart('cH', [6, 578, 258, 785], [40.7, 590.7, 245.6, 765], [-6.2, 246, 24, 12], [-3.6, -2.2, 0.2, 0.1], [
  series('WT', tH, hWT, hWTe, ST.wt),
  series('Δ*kdgK*', tH, hR, hRe, ST.red),
  series('Δ*kdgK*/pEV', tH, hG, hGe, ST.green),
  series('Δ*kdgK*/pEV*kdgK*', tH, hB, hBe, ST.blue)
], [[44, 590.7], [44, 602.7], [44, 615], [44, 627.3]], 19, 9.5, 10.5);

lineChart('cI', [284, 578, 530, 785], [318.3, 590.7, 516.4, 765], [-5.1, 246, 24, 12], [-3.5, -1.0, 0.5, 0.25], [
  series('WT', tH, iWT, iWTe, ST.wt),
  series('Δ*ongR*', tH, iR, iRe, ST.red),
  series('Δ*ongR*/pEV', tH, iG, iGe, ST.green),
  series('Δ*ongR*/pEV*ongR*', tH, iB, iBe, ST.blue)
], [[319, 590.7], [319, 601], [383.3, 590.7], [383.3, 601]], 17, 9.5, 10.5);

// ---------- panel j ----------
function jBars(label, vals, err, color) {
  return {
    label, vals, err, errAfter: true, errColor: '#222', errCap: 1.5,
    data: vals.map((v, i) => ({ x: i, y: v })),
    backgroundColor: color, borderColor: '#1a1a1a', borderWidth: 0.8, barThickness: 5.3
  };
}
function jChart(id, ext, area, ymax, sets, showLabels, at) {
  const L = setup(id, ext, area);
  const xAx = axis([-0.33, 8.95, 1], L.xFit, v => jGenes[Math.round(v)]);
  xAx.offset = false;
  xAx.grid.offset = false;
  xAx.ticks.display = showLabels;
  xAx.ticks.minRotation = 35;
  xAx.ticks.maxRotation = 35;
  xAx.ticks.font = { style: 'italic', size: 10.5 };
  new Chart(L.el, {
    type: 'bar',
    data: { datasets: sets },
    options: {
      responsive: false, events: [],
      layout: { padding: L.padding },
      scales: {
        x: xAx,
        y: axis([0, ymax, 50], L.yFit, v => String(Math.round(v)))
      },
      plugins: {
        legend: { display: false }, tooltip: { enabled: false },
        minorTicks: { y: 25 },
        lgd: { at, ox: ext[0], oy: ext[1], box: true, size: 9 }
      }
    }
  });
}
const colJ = ['#111111', '#C9C9C9', '#1F3E9E', '#73C9D4'];
jChart('cJ1', [530, 575, 810, 675], [582.7, 583.3, 800, 670], 103, [
  jBars('WT, 0 h, glucose', gluWT0, null, colJ[0]),
  jBars('WT, 12 h, glucose', gluWT12, gluWT12e, colJ[1]),
  jBars('Δ*ongR*, 0 h, glucose', gluR0, gluR0e, colJ[2]),
  jBars('Δ*ongR*, 12 h, glucose', gluR12, gluR12e, colJ[3])
], false, [[690, 595], [690, 607], [690, 618.5], [690, 630]]);
jChart('cJ2', [530, 670, 810, 794], [582.7, 678.4, 800, 762.3], 110, [
  jBars('WT, 0 h, GlcNAc1A', glcWT0, null, colJ[0]),
  jBars('WT, 60 h, GlcNAc1A', glcWT60, glcWT60e, colJ[1]),
  jBars('Δ*ongR*, 0 h, GlcNAc1A', glcR0, glcR0e, colJ[2]),
  jBars('Δ*ongR*, 60 h, GlcNAc1A', glcR60, glcR60e, colJ[3])
], true, [[690, 693], [690, 705], [690, 717], [690, 728.5]]);
</script>
</body>
</html>
